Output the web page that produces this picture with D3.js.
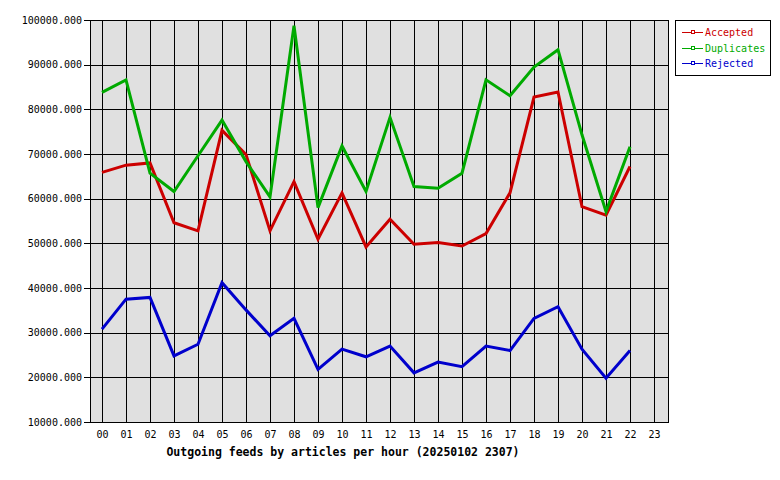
<!DOCTYPE html>
<html>
<head>
<meta charset="utf-8">
<script src="https://cdn.jsdelivr.net/npm/d3@7"></script>
<style>
  body { margin: 0; background: #fff; }
  svg { display: block; }
  text { font-family: "DejaVu Sans Mono", monospace; }
</style>
</head>
<body>
<svg id="chart" width="780" height="480"></svg>
<script>
const hours = ["00","01","02","03","04","05","06","07","08","09","10","11","12","13","14","15","16","17","18","19","20","21","22","23"];
const accepted   = [65900,67500,68000,54600,52800,75300,69900,52800,63800,50900,61300,49200,55400,49800,50200,49400,52200,61300,82750,83900,58200,56300,67200];
const duplicates = [83800,86600,65700,61600,69600,77600,68300,60400,98700,58000,71800,61600,78200,62700,62350,65700,86600,83040,89470,93350,74300,57100,71600];
const rejected   = [30800,37500,37900,24800,27400,41200,35100,29300,33200,21800,26300,24600,27000,21000,23400,22400,27000,26000,33200,35800,26300,19800,26000];
const yTicks = [10000,20000,30000,40000,50000,60000,70000,80000,90000,100000];
const seriesNames = ["Accepted","Duplicates","Rejected"];
const seriesColors = ["#cc0000","#00aa00","#0000cc"];
const title = "Outgoing feeds by articles per hour (20250102 2307)";

const svg = d3.select("#chart");
const L = 90, R = 668, T = 20, B = 422;

const x = d3.scaleBand().domain(hours).range([L, L + 24*24]);
const xc = h => x(h) + x.bandwidth()/2;
const y = d3.scaleLinear().domain([10000, 100000]).range([B, T]);

// plot background
svg.append("rect").attr("x", L).attr("y", T).attr("width", R - L).attr("height", B - T)
  .attr("fill", "#e0e0e0");

const g = svg.append("g").attr("shape-rendering", "crispEdges");
// horizontal grid
g.selectAll(".hg").data(yTicks).join("line")
  .attr("x1", L - 6).attr("x2", R).attr("y1", d => Math.round(y(d)) + 0.5).attr("y2", d => Math.round(y(d)) + 0.5)
  .attr("stroke", "#000").attr("stroke-width", 1);
// vertical grid
g.selectAll(".vg").data(hours).join("line")
  .attr("x1", d => Math.round(xc(d)) + 0.5).attr("x2", d => Math.round(xc(d)) + 0.5)
  .attr("y1", T).attr("y2", B)
  .attr("stroke", "#000").attr("stroke-width", 1);
// border
g.append("rect").attr("x", L + 0.5).attr("y", T + 0.5).attr("width", R - L).attr("height", B - T)
  .attr("fill", "none").attr("stroke", "#000");

// y labels
svg.selectAll(".yl").data(yTicks).join("text")
  .attr("x", 82).attr("y", d => y(d) + 3.5)
  .attr("text-anchor", "end").attr("font-size", "10px").attr("fill", "#000")
  .text(d => d3.format(".3f")(d));
// x labels
svg.selectAll(".xl").data(hours).join("text")
  .attr("x", d => xc(d) + 0.5).attr("y", 438)
  .attr("text-anchor", "middle").attr("font-size", "10px").attr("fill", "#000")
  .text(d => d);
// title
svg.append("text").attr("x", 343).attr("y", 456).attr("text-anchor", "middle")
  .attr("font-size", "11.5px").attr("font-weight", "bold").attr("fill", "#000").text(title);

// series
const line = d3.line().x((d, i) => xc(hours[i])).y(d => y(d));
[accepted, duplicates, rejected].forEach((s, k) => {
  svg.append("path").datum(s).attr("d", line).attr("fill", "none")
    .attr("stroke", seriesColors[k]).attr("stroke-width", 3).attr("stroke-linejoin", "miter");
});

// legend
const lg = svg.append("g").attr("shape-rendering", "crispEdges");
lg.append("rect").attr("x", 675.5).attr("y", 20.5).attr("width", 95).attr("height", 55)
  .attr("fill", "#fff").attr("stroke", "#000");
seriesNames.forEach((n, k) => {
  const yy = 32 + k * 15.5;
  lg.append("line").attr("x1", 682).attr("x2", 703).attr("y1", Math.round(yy) + 0.5).attr("y2", Math.round(yy) + 0.5)
    .attr("stroke", seriesColors[k]);
  lg.append("rect").attr("x", 691.5).attr("y", Math.round(yy) - 1.5).attr("width", 3).attr("height", 3)
    .attr("fill", "#fff").attr("stroke", seriesColors[k]);
  svg.append("text").attr("x", 705).attr("y", yy + 4).attr("font-size", "10px")
    .attr("fill", seriesColors[k]).text(n);
});
</script>
</body>
</html>
